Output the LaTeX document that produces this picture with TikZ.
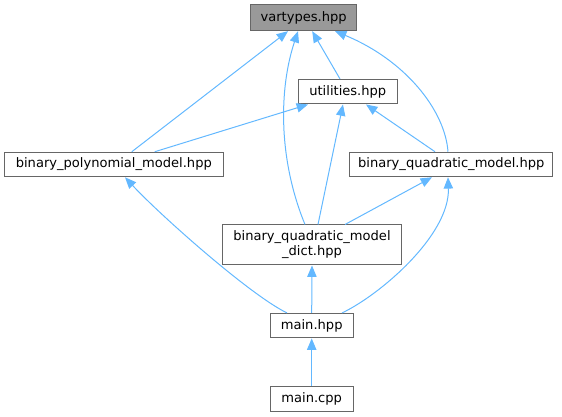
\documentclass[tikz,border=0pt]{standalone}
\usepackage{fontspec}
\setmainfont{DejaVu Sans}
\usetikzlibrary{arrows.meta,calc}
\definecolor{edgecol}{HTML}{63B8FF}
\definecolor{boxline}{HTML}{666666}
\definecolor{boxfill}{HTML}{999999}
\begin{document}
\begin{tikzpicture}[x=0.75pt,y=-0.75pt,
  file/.style={draw=boxline, line width=0.75pt, fill=white, inner sep=0pt,
    minimum height=18.4pt, align=center, font=\fontsize{9.8}{11.3}\selectfont},
  dep/.style={draw=edgecol, line width=0.75pt, -{Triangle[length=8.5pt,width=7pt]}}]
\useasboundingbox (0,0) rectangle (562,417);
\node[file, fill=boxfill, minimum width=79.5pt, minimum height=19.3pt] (vt) at (303.7,17.8) {vartypes.hpp};
\node[file, minimum width=74.3pt] (ut) at (347.8,91.7) {utilities.hpp};
\node[file, minimum width=164.3pt] (bpm) at (113.8,164.5) {binary\_polynomial\_model.hpp};
\node[file, minimum width=152pt] (bqm) at (451.3,164.5) {binary\_quadratic\_model.hpp};
\node[file, minimum width=134.3pt, minimum height=30pt] (dict) at (312,245) {binary\_quadratic\_model\\\_dict.hpp};
\node[file, minimum width=62.3pt] (mh) at (311.7,325.7) {main.hpp};
\node[file, minimum width=62pt, minimum height=18.8pt] (mc) at (311.7,399.2) {main.cpp};

\draw[dep] ($(bpm.north)+(18,0)$) -- ($(vt.south)+(-15.7,0)$);
\draw[dep] ($(dict.north)+(-7,0)$) .. controls (278.5,160) and (278.5,90) .. ($(vt.south)+(-5.7,0)$);
\draw[dep] ($(ut.north)+(-7.8,0)$) -- ($(vt.south)+(8.5,0)$);
\draw[dep] ($(bqm.north)+(-3.3,0)$) .. controls (445,110) and (405,60) .. ($(vt.south)+(31.3,0)$);
\draw[dep] ($(bpm.north)+(41,0)$) -- ($(ut.south)+(-39.8,0)$);
\draw[dep] ($(dict.north)+(6,0)$) -- ($(ut.south)+(-4.8,0)$);
\draw[dep] ($(bqm.north)+(-16.3,0)$) -- ($(ut.south)+(18.2,0)$);
\draw[dep] ($(dict.north)+(33,0)$) -- ($(bqm.south)+(-19.3,0)$);
\draw[dep] ($(mh.north)+(-24.7,0)$) .. controls (250,295) and (160,215) .. ($(bpm.south)+(11.2,0)$);
\draw[dep] (mh.north) -- (dict.south);
\draw[dep] ($(mh.north)+(30.3,0)$) .. controls (380,295) and (450,235) .. ($(bqm.south)+(-3.3,0)$);
\draw[dep] (mc.north) -- (mh.south);
\end{tikzpicture}
\end{document}
